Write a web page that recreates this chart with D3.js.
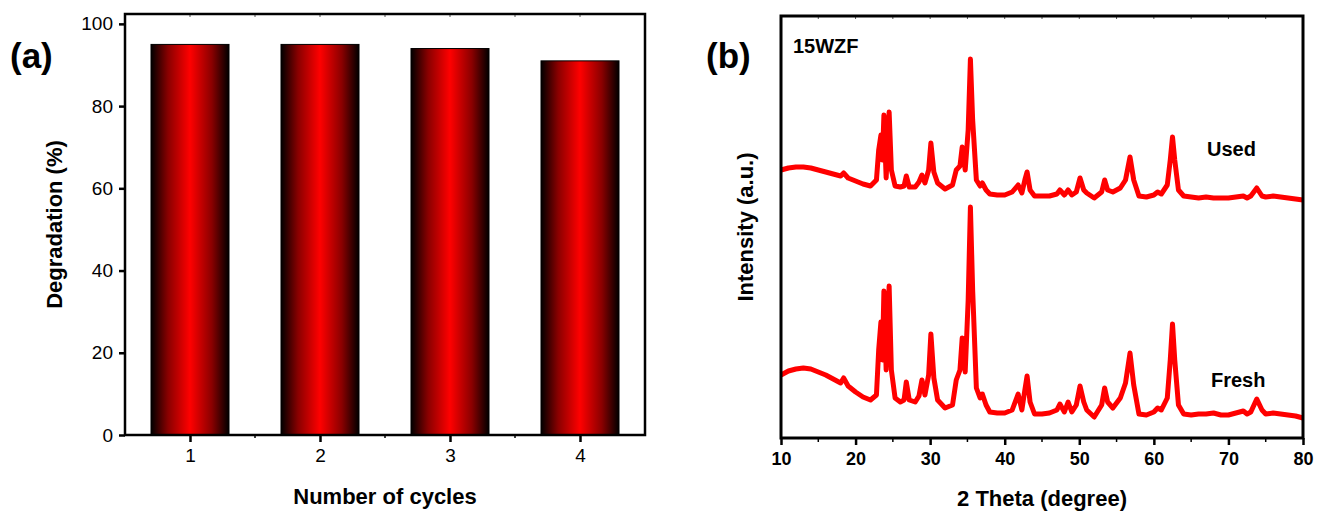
<!DOCTYPE html>
<html>
<head>
<meta charset="utf-8">
<script src="https://cdn.jsdelivr.net/npm/d3@7"></script>
<style>
  html, body { margin: 0; padding: 0; background: #fff; }
  svg { display: block; font-family: "Liberation Sans", Arial, sans-serif; }
</style>
</head>
<body>
<svg id="chart" width="1318" height="512"></svg>
<script>
// ---------- Panel (a) data ----------
const cycles = [1, 2, 3, 4];
const degradation = [95, 95, 94, 91];
const degTicks = [0, 20, 40, 60, 80, 100];

// ---------- Panel (b) data (2θ in degrees, intensity in a.u.) ----------
const theta = [
  10, 11, 12, 13, 14, 15, 16, 17, 18, 18.4,
  19, 20, 21, 22, 22.8, 23.1, 23.4, 23.6, 23.8, 24.1,
  24.5, 24.8, 25.3, 26, 26.5, 26.8, 27.2, 28, 28.5, 28.9,
  29.3, 29.8, 30.1, 30.5, 31, 32, 33, 33.5, 34, 34.3,
  34.7, 35.1, 35.4, 35.7, 36.2, 36.7, 37, 37.5, 38, 39,
  40, 41, 41.8, 42.3, 42.7, 43, 43.4, 44, 45, 46,
  47, 47.4, 48, 48.5, 49, 49.6, 50.1, 50.6, 51, 52,
  53, 53.4, 53.8, 54.5, 55.5, 56.2, 56.8, 57.3, 58, 59,
  60, 60.5, 61, 61.8, 62.2, 62.5, 62.8, 63.3, 64, 65,
  66, 67, 68, 69, 70, 71, 72, 72.5, 73, 73.8,
  74.5, 75, 76, 77, 78, 79, 80
];
const usedI = [
  268, 270, 271, 271, 270, 268, 266, 264, 262, 265,
  260, 257, 254, 252, 258, 288, 303, 278, 323, 260,
  326, 268, 252, 251, 252, 262, 251, 251, 256, 263,
  255, 268, 295, 266, 255, 249, 253, 268, 272, 291,
  268, 308, 379, 318, 258, 252, 255, 248, 244, 243,
  243, 246, 253, 245, 258, 266, 248, 242, 242, 242,
  244, 248, 243, 248, 243, 246, 260, 248, 245, 240,
  246, 258, 248, 246, 250, 258, 281, 258, 242, 241,
  243, 246, 244, 253, 278, 301, 278, 248, 242, 241,
  240, 241, 240, 240, 240, 241, 242, 240, 242, 250,
  242, 241, 242, 241, 240, 239, 238
];
const freshI = [
  63, 67, 69, 70, 69, 66, 63, 59, 55, 60,
  52, 46, 41, 38, 43, 88, 116, 78, 147, 68,
  152, 68, 40, 36, 38, 56, 38, 36, 42, 58,
  43, 63, 104, 60, 38, 30, 33, 58, 68, 100,
  66, 138, 231, 148, 50, 40, 44, 33, 26, 25,
  25, 28, 44, 28, 48, 62, 36, 24, 24, 25,
  28, 34, 26, 36, 26, 33, 52, 36, 28, 21,
  33, 50, 36, 30, 40, 55, 85, 53, 24, 23,
  26, 30, 28, 40, 78, 114, 78, 33, 24, 23,
  24, 24, 25, 23, 23, 25, 27, 24, 26, 39,
  28, 24, 25, 24, 23, 22, 20
];
const thetaTicks = [10, 20, 30, 40, 50, 60, 70, 80];
const thetaMinor = [15, 25, 35, 45, 55, 65, 75];

const svg = d3.select("#chart");

// gradient for bars
const defs = svg.append("defs");
const grad = defs.append("linearGradient").attr("id", "barGrad")
  .attr("x1", "0%").attr("x2", "100%").attr("y1", "0%").attr("y2", "0%");
grad.append("stop").attr("offset", "0%").attr("stop-color", "#000");
grad.append("stop").attr("offset", "22%").attr("stop-color", "#8a0000");
grad.append("stop").attr("offset", "50%").attr("stop-color", "#ff0000");
grad.append("stop").attr("offset", "78%").attr("stop-color", "#8a0000");
grad.append("stop").attr("offset", "100%").attr("stop-color", "#000");

// ================= Panel (a) =================
const A = { left: 125, right: 645, top: 14, bottom: 435 };
const xA = d3.scalePoint().domain(cycles).range([A.left, A.right]).padding(0.5);
const yA = d3.scaleLinear().domain([0, 102.4]).range([A.bottom, A.top]);
const stepA = xA.step();
const barW = stepA * 0.6;

const gA = svg.append("g");
gA.selectAll("rect.bar").data(cycles).join("rect")
  .attr("class", "bar")
  .attr("x", d => xA(d) - barW / 2)
  .attr("width", barW)
  .attr("y", (d, i) => yA(degradation[i]))
  .attr("height", (d, i) => yA(0) - yA(degradation[i]))
  .attr("fill", "url(#barGrad)")
  .attr("stroke", "#000").attr("stroke-width", 1);

// left axis
const axLeftA = gA.append("g").attr("transform", `translate(${A.left},0)`)
  .call(d3.axisLeft(yA).tickValues(degTicks).tickSize(6).tickPadding(6).tickSizeOuter(0));
axLeftA.attr("font-size", 19).attr("font-family", "Liberation Sans, Arial, sans-serif");
axLeftA.select(".domain").remove();
axLeftA.selectAll(".tick line").attr("stroke-width", 2.5);
axLeftA.selectAll("text").style("font-size", "19px").attr("fill", "#000");

// bottom axis
const axBotA = gA.append("g").attr("transform", `translate(0,${A.bottom})`)
  .call(d3.axisBottom(xA).tickSize(7).tickPadding(7).tickSizeOuter(0));
axBotA.attr("font-size", 19).attr("font-family", "Liberation Sans, Arial, sans-serif");
axBotA.select(".domain").remove();
axBotA.selectAll(".tick line").attr("stroke-width", 2.5);
axBotA.selectAll("text").style("font-size", "19px").attr("fill", "#000");
// minor ticks at category boundaries
const boundsA = cycles.slice(1).map(d => xA(d) - stepA / 2);
gA.selectAll("line.minorA").data(boundsA).join("line")
  .attr("x1", d => d).attr("x2", d => d)
  .attr("y1", A.bottom).attr("y2", A.bottom + 3)
  .attr("stroke", "#000").attr("stroke-width", 1.5);
// top ticks (inward)
const topTicksA = cycles.map(d => xA(d)).concat(boundsA);
gA.selectAll("line.topA").data(topTicksA).join("line")
  .attr("x1", d => d).attr("x2", d => d)
  .attr("y1", A.top).attr("y2", A.top + 3)
  .attr("stroke", "#555").attr("stroke-width", 1);

// frame
gA.append("rect").attr("x", A.left).attr("y", A.top)
  .attr("width", A.right - A.left).attr("height", A.bottom - A.top)
  .attr("fill", "none").attr("stroke", "#000").attr("stroke-width", 2.5);

// titles
gA.append("text").attr("x", (A.left + A.right) / 2).attr("y", 504)
  .attr("text-anchor", "middle").attr("font-size", 22).attr("font-weight", "bold")
  .text("Number of cycles");
gA.append("text").attr("transform", `translate(62,${(A.top + A.bottom) / 2}) rotate(-90)`)
  .attr("text-anchor", "middle").attr("font-size", 22).attr("font-weight", "bold")
  .text("Degradation (%)");
gA.append("text").attr("x", 10).attr("y", 68)
  .attr("font-size", 35).attr("font-weight", "bold").text("(a)");

// ================= Panel (b) =================
const B = { left: 781, right: 1303, top: 16, bottom: 438 };
const xB = d3.scaleLinear().domain([10, 80]).range([B.left, B.right]);
const yB = d3.scaleLinear().domain([0, 422]).range([B.bottom, B.top]);
const gB = svg.append("g");

const line = d3.line().x(d => xB(d[0])).y(d => yB(d[1]));
const usedData = theta.map((t, i) => [t, usedI[i]]);
const freshData = theta.map((t, i) => [t, freshI[i]]);
[usedData, freshData].forEach(dat => {
  gB.append("path").datum(dat).attr("d", line)
    .attr("fill", "none").attr("stroke", "#ff0000")
    .attr("stroke-width", 5).attr("stroke-linejoin", "round");
});

// bottom axis
const axBotB = gB.append("g").attr("transform", `translate(0,${B.bottom})`)
  .call(d3.axisBottom(xB).tickValues(thetaTicks).tickFormat(d3.format("d"))
    .tickSize(7).tickPadding(7).tickSizeOuter(0));
axBotB.attr("font-size", 18).attr("font-family", "Liberation Sans, Arial, sans-serif");
axBotB.select(".domain").remove();
axBotB.selectAll(".tick line").attr("stroke-width", 2.5);
axBotB.selectAll("text").style("font-size", "18px").attr("font-weight", "bold").attr("fill", "#000");
gB.selectAll("line.minorB").data(thetaMinor).join("line")
  .attr("x1", d => xB(d)).attr("x2", d => xB(d))
  .attr("y1", B.bottom).attr("y2", B.bottom + 4)
  .attr("stroke", "#000").attr("stroke-width", 1.5);
// top ticks inward
gB.selectAll("line.topB").data(thetaTicks.concat(thetaMinor)).join("line")
  .attr("x1", d => xB(d)).attr("x2", d => xB(d))
  .attr("y1", B.top).attr("y2", B.top + 3)
  .attr("stroke", "#555").attr("stroke-width", 1);

// frame
gB.append("rect").attr("x", B.left).attr("y", B.top)
  .attr("width", B.right - B.left).attr("height", B.bottom - B.top)
  .attr("fill", "none").attr("stroke", "#000").attr("stroke-width", 3);

// labels
gB.append("text").attr("x", (B.left + B.right) / 2).attr("y", 506)
  .attr("text-anchor", "middle").attr("font-size", 22).attr("font-weight", "bold")
  .text("2 Theta (degree)");
gB.append("text").attr("transform", `translate(753,${(B.top + B.bottom) / 2}) rotate(-90)`)
  .attr("text-anchor", "middle").attr("font-size", 22).attr("font-weight", "bold")
  .text("Intensity (a.u.)");
gB.append("text").attr("x", 706).attr("y", 68)
  .attr("font-size", 35).attr("font-weight", "bold").text("(b)");
gB.append("text").attr("x", 793).attr("y", 53)
  .attr("font-size", 20).attr("font-weight", "bold").text("15WZF");
gB.append("text").attr("x", 1207).attr("y", 156)
  .attr("font-size", 20).attr("font-weight", "bold").text("Used");
gB.append("text").attr("x", 1211).attr("y", 387)
  .attr("font-size", 20).attr("font-weight", "bold").text("Fresh");
</script>
</body>
</html>
